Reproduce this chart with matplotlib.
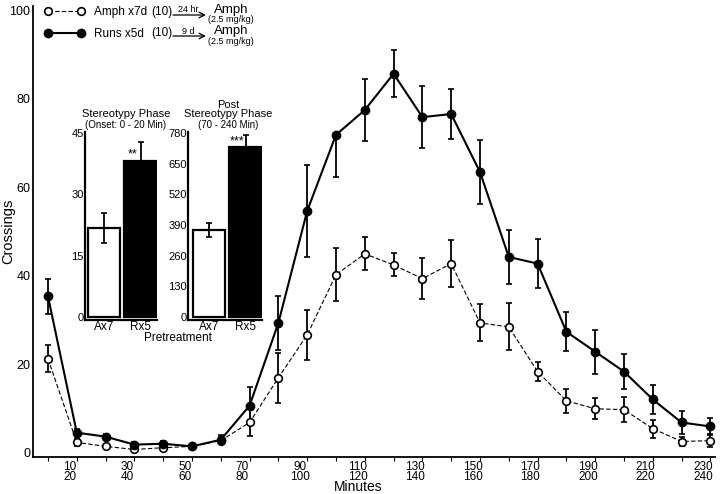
import numpy as np
import matplotlib
matplotlib.use('Agg')
import matplotlib.pyplot as plt

plt.rcParams['font.family'] = ['Liberation Sans', 'DejaVu Sans']

# main time course (crossings per 10 min bin)
minutes = [10, 20, 30, 40, 50, 60, 70, 80, 90, 100, 110, 120,
           130, 140, 150, 160, 170, 180, 190, 200, 210, 220, 230, 240]
runs_mean = [35.3, 4.5, 3.6, 1.8, 2.0, 1.4, 2.9, 10.6, 29.3, 54.6, 71.8, 77.4,
             85.6, 75.8, 76.5, 63.4, 44.2, 42.7, 27.3, 22.8, 18.3, 12.0, 6.8, 5.9]
runs_err_low = [4.0, 0.8, 0.7, 0.6, 0.6, 0.6, 1.0, 4.3, 6.1, 10.3, 9.5, 7.0,
                5.3, 7.0, 5.7, 7.2, 6.0, 5.6, 4.4, 5.0, 4.0, 3.3, 2.5, 1.9]
runs_err_high = [4.0, 0.8, 0.7, 0.6, 0.6, 0.6, 1.0, 4.3, 6.1, 10.3, 0.0, 7.0,
                 5.3, 7.0, 5.7, 7.2, 6.0, 5.6, 4.4, 5.0, 4.0, 3.3, 2.5, 1.9]
amph_mean = [21.2, 2.3, 1.4, 0.7, 1.1, 1.4, 2.7, 6.8, 16.9, 26.6, 40.2, 44.9,
             42.4, 39.3, 42.7, 29.3, 28.4, 18.3, 11.7, 9.9, 9.7, 5.4, 2.5, 2.7]
amph_err = [3.0, 0.8, 0.5, 0.4, 0.5, 0.5, 0.8, 3.0, 5.6, 5.7, 6.0, 3.7,
            2.6, 4.6, 5.3, 4.2, 5.3, 2.2, 2.7, 2.4, 2.8, 2.0, 1.0, 1.4]

tick_pos = [17.5, 37.5, 57.5, 77.5, 97.5, 117.5, 137.5, 157.5, 177.5, 197.5, 217.5, 237.5]
tick_labels = ['10\n20', '30\n40', '50\n60', '70\n80', '90\n100', '110\n120',
               '130\n140', '150\n160', '170\n180', '190\n200', '210\n220', '230\n240']

# inset bars
groups = ['Ax7', 'Rx5']
onset_mean = [21.8, 38.2]
onset_err = [3.6, 4.6]
post_mean = [369, 721]
post_err = [30, 53]

W, H = 720, 494
fig = plt.figure(figsize=(7.2, 4.94), dpi=100)

ax = fig.add_axes([33 / W, 1 - 457 / H, (715 - 33) / W, (457 - 5.6) / H])
ax.plot(minutes, amph_mean, color='black', lw=0.8, ls=(0, (4, 2)),
        marker='o', ms=5.5, mfc='white', mec='black', mew=1.2, zorder=3,
        label='Amph x7d')
ax.plot(minutes, runs_mean, color='black', lw=1.5,
        marker='o', ms=6, mfc='black', mec='black', zorder=4,
        label='Runs x5d')
ax.errorbar(minutes, amph_mean, yerr=amph_err, fmt='none', ecolor='black',
            elinewidth=1.3, capsize=2.5, capthick=1.2, zorder=2)
ax.errorbar(minutes, runs_mean, yerr=[runs_err_low, runs_err_high], fmt='none',
            ecolor='black', elinewidth=1.3, capsize=2.5, capthick=1.2, zorder=2)

ax.set_xlim(4.8, 241.6)
ax.set_ylim(-1, 101)
for s in ['top', 'right']:
    ax.spines[s].set_visible(False)
ax.spines['left'].set_linewidth(1.3)
ax.spines['bottom'].set_linewidth(1.3)

ax.set_yticks([0, 20, 40, 60, 80, 100])
ax.tick_params(axis='y', length=0, pad=2, labelsize=9)
ax.set_xticks(minutes)
ax.set_xticklabels([])
ax.tick_params(axis='x', which='major', length=3, width=0.8, direction='out')
ax.set_xticks(tick_pos, minor=True)
ax.set_xticklabels(tick_labels, minor=True, fontsize=8.5, linespacing=0.8)
ax.tick_params(axis='x', which='minor', length=0, pad=3)

ax.set_ylabel('Crossings', fontsize=10.5)
ax.yaxis.set_label_coords((15 - 33) / (715 - 33), 0.5)
ax.set_xlabel('Minutes', fontsize=10)
ax.xaxis.set_label_coords((358 - 33) / (715 - 33), -0.051)

leg = ax.legend(loc='upper left', bbox_to_anchor=(44.3 / W, 1 - 6 / H),
                bbox_transform=fig.transFigure, frameon=False, numpoints=2,
                handlelength=3.4, handletextpad=0.8, labelspacing=0.85,
                fontsize=8.5, borderpad=0, borderaxespad=0)

# legend extras: n, arrows, challenge dose
for yy, n_txt, lag in [(12, '(10)', '24 hr'), (33, '(10)', '9 d')]:
    fig.text(151 / W, 1 - yy / H, n_txt, fontsize=8.5, va='center')
    ax.annotate('', xy=(206 / W, 1 - (yy + 3) / H), xytext=(173 / W, 1 - (yy + 3) / H),
                xycoords='figure fraction', textcoords='figure fraction',
                arrowprops=dict(arrowstyle='->', lw=0.9, color='black',
                                shrinkA=0, shrinkB=0, mutation_scale=10))
    fig.text(188 / W, 1 - (yy - 2) / H, lag, fontsize=6.5, ha='center', va='center')
    fig.text(231 / W, 1 - (yy - 2) / H, 'Amph', fontsize=9.5, ha='center', va='center')
    fig.text(231 / W, 1 - (yy + 8) / H, '(2.5 mg/kg)', fontsize=6.5, ha='center', va='center')


def inset(left_px, right_px, xlo, means, errs, ymax, ticks):
    a = fig.add_axes([left_px / W, 1 - 320 / H, (right_px - left_px) / W, (320 - 132) / H])
    a.bar([0, 1], means, width=0.88, color=['white', 'black'], edgecolor='black',
          linewidth=1.6)
    a.errorbar([0, 1], means, yerr=errs, fmt='none', ecolor='black',
               elinewidth=1.3, capsize=2.5, capthick=1.2)
    a.set_xlim(xlo, 1.45)
    a.set_ylim(-ymax * 0.017, ymax * 1.006)
    for s in ['top', 'right']:
        a.spines[s].set_visible(False)
    a.spines['left'].set_linewidth(1.6)
    a.spines['bottom'].set_linewidth(1.6)
    a.set_yticks(ticks)
    a.set_xticks([0, 1])
    a.set_xticklabels(groups, fontsize=8.5)
    a.tick_params(axis='y', length=0, labelsize=8, pad=1)
    a.tick_params(axis='x', length=0, pad=0.5)
    a.patch.set_alpha(0)
    return a


a1 = inset(85, 157, -0.52, onset_mean, onset_err, 45, [0, 15, 30, 45])
a2 = inset(188, 262, -0.575, post_mean, post_err, 780,
           [0, 130, 260, 390, 520, 650, 780])

fig.text(126 / W, 1 - 114 / H, 'Stereotypy Phase', fontsize=8, ha='center', va='center')
fig.text(126 / W, 1 - 125 / H, '(Onset: 0 - 20 Min)', fontsize=7, ha='center', va='center')
fig.text(228 / W, 1 - 105 / H, 'Post', fontsize=8, ha='center', va='center')
fig.text(228 / W, 1 - 114 / H, 'Stereotypy Phase', fontsize=8, ha='center', va='center')
fig.text(228 / W, 1 - 125 / H, '(70 - 240 Min)', fontsize=7, ha='center', va='center')
fig.text(178 / W, 1 - 338 / H, 'Pretreatment', fontsize=8.5, ha='center', va='center')

a1.text(0.78, onset_mean[1], '**', fontsize=9, ha='center', va='bottom')
a2.text(0.76, post_mean[1], '***', fontsize=9, ha='center', va='bottom')

fig.savefig('out.png', dpi=100)
